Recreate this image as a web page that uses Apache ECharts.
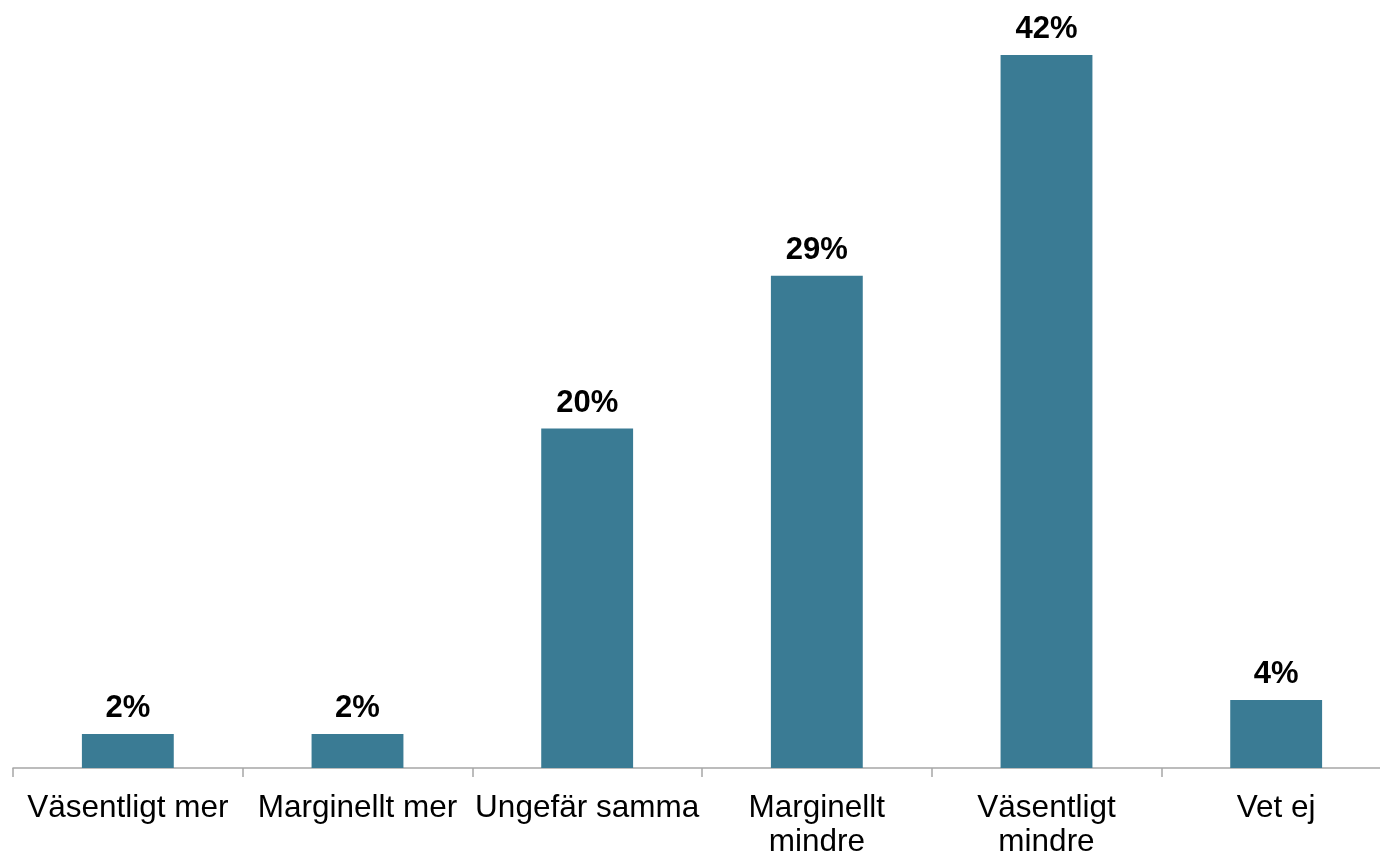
<!DOCTYPE html>
<html>
<head>
<meta charset="utf-8">
<script src="https://cdn.jsdelivr.net/npm/echarts@6/dist/echarts.min.js"></script>
<style>
  html, body { margin: 0; padding: 0; background: #fff; }
  #main { width: 1380px; height: 856px; }
</style>
</head>
<body>
<div id="main"></div>
<script>
// data
const categories = ['Väsentligt mer', 'Marginellt mer', 'Ungefär samma', 'Marginellt mindre', 'Väsentligt mindre', 'Vet ej'];
const values = [2, 2, 20, 29, 42, 4];

const chart = echarts.init(document.getElementById('main'));

const option = {
  animation: false,
  grid: {
    left: 13,
    top: 55,
    bottom: 88,
    width: 1378,
    outerBoundsMode: 'none',
    containLabel: false
  },
  xAxis: {
    type: 'category',
    data: categories,
    axisLine: { show: true, lineStyle: { color: '#a6a6a6', width: 1.5 } },
    axisTick: { show: true, length: 9, interval: 0, lineStyle: { color: '#a6a6a6', width: 1.5 } },
    axisLabel: {
      color: '#000',
      fontFamily: 'Liberation Sans, Arial, sans-serif',
      fontSize: 31.5,
      lineHeight: 34,
      margin: 23,
      interval: 0,
      // the two "... mindre" labels wrap onto two lines
      formatter: v => v.replace(' mindre', '\nmindre')
    }
  },
  yAxis: {
    type: 'value',
    min: 0,
    max: 42,
    show: false
  },
  series: [{
    type: 'bar',
    data: values,
    barWidth: '40%',
    itemStyle: { color: '#3a7b94' },
    label: {
      show: true,
      position: 'top',
      distance: 10,
      formatter: '{c}%',
      color: '#000',
      fontFamily: 'Liberation Sans, Arial, sans-serif',
      fontWeight: 'bold',
      fontSize: 31
    }
  }]
};

chart.setOption(option);
</script>
</body>
</html>
